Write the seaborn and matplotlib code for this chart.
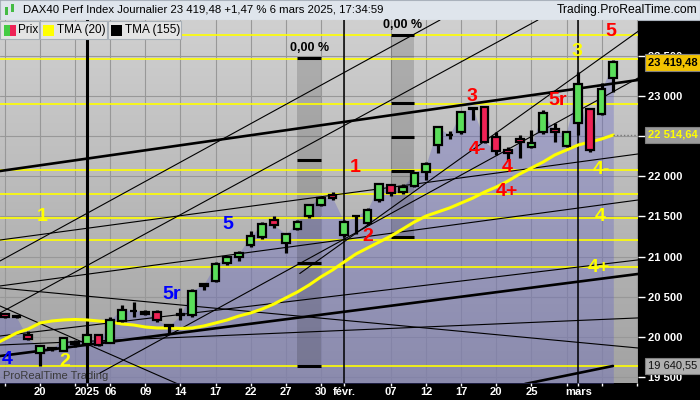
import numpy as np
import pandas as pd
import seaborn as sns
from matplotlib import pyplot as plt
from matplotlib.colors import LinearSegmentedColormap
from matplotlib.patches import Rectangle

# trading-day index: 0 = 20 Dec 2024 ... 49 = 6 Mar 2025
days = list(range(-4, 50))
opens = [20390, 20285, 20262, 20020, 19800, 19860, 19830, 19940, 19910, 20020,
         19930, 20200, 20320, 20290, 20310, 20150, 20280, 20270, 20640, 20700,
         20920, 20990, 21140, 21240, 21460, 21170, 21345, 21500, 21645, 21770,
         21270, 21500, 21420, 21705, 21890, 21800, 21880, 22050, 22390, 22520,
         22550, 22840, 22860, 22490, 22330, 22470, 22370, 22550, 22590, 22380,
         22660, 22840, 22775, 23225]
highs = [20420, 20300, 20275, 20080, 19900, 19880, 19990, 19960, 20050, 20040,
         20250, 20400, 20436, 20330, 20330, 20160, 20360, 20600, 20660, 20930,
         21010, 21070, 21320, 21430, 21500, 21300, 21450, 21660, 21745, 21800,
         21460, 21520, 21600, 21920, 21910, 21900, 22050, 22180, 22630, 22560,
         22810, 22860, 22880, 22550, 22365, 22520, 22577, 22830, 22664, 22560,
         23300, 22850, 23162, 23448]
lows = [20290, 20230, 20235, 19960, 19640.55, 19830, 19820, 19880, 19880, 19890,
        19920, 20190, 20250, 20270, 20190, 20050, 20210, 20250, 20580, 20680,
        20900, 20950, 21120, 21220, 21360, 21050, 21330, 21480, 21630, 21700,
        21250, 21280, 21400, 21680, 21760, 21780, 21870, 21955, 22290, 22460,
        22530, 22700, 22410, 22265, 22200, 22228, 22350, 22530, 22427, 22360,
        22514, 22300, 22760, 23050]
closes = [20314, 20246, 20243, 19970, 19885, 19848, 19984, 19909, 20025, 19906,
          20216, 20340, 20329, 20317, 20215, 20133, 20271, 20575, 20655, 20903,
          20990, 21042, 21254, 21411, 21395, 21282, 21430, 21637, 21727, 21732,
          21428, 21505, 21585, 21902, 21787, 21868, 22037, 22148, 22612, 22513,
          22798, 22845, 22433, 22315, 22287, 22426, 22410, 22794, 22551, 22551,
          23147, 22327, 23081, 23419.48]
tma20 = [19900, 19975, 20050, 20100, 20174, 20199, 20212, 20218, 20212, 20199,
         20187, 20162, 20149, 20124, 20112, 20112, 20106, 20112, 20137, 20174,
         20212, 20261, 20299, 20349, 20411, 20486, 20560, 20647, 20747, 20834,
         20934, 21033, 21108, 21183, 21257, 21344, 21432, 21506, 21556, 21606,
         21668, 21730, 21805, 21867, 21942, 22029, 22104, 22178, 22266, 22328,
         22390, 22427, 22465, 22514.64]

tick_days = [-3, 0, 3, 4, 6, 9, 12, 15, 18, 21, 24, 26, 30, 33, 36, 39, 42, 45, 46, 48, 51]
tick_text = ["", "20", "", "2025", "06", "09", "14", "17", "22", "27", "30", "févr.",
             "07", "12", "17", "20", "25", "", "mars", "", ""]
price_ticks = [19500, 20000, 20500, 21000, 21500, 22000, 22500, 23000, 23500]
price_text = ["19 500", "20 000", "20 500", "21 000", "21 500", "22 000", "", "23 000", "23 500"]

# horizontal levels drawn in yellow
levels = [23759, 23461, 22900, 22079, 21780, 21481, 21207, 20871, 19640.55]

# trend lines (start day, start price, end day, end price)
thick_lines = [(-3.42, 22066, 51.1, 23199), (-3.42, 19763, 51.1, 20784), (41.45, 19415, 48.97, 19639)]
thin_lines = [(-3.42, 20946, 34.19, 23946), (-3.42, 20299, 42.56, 23946), (22.2, 20790, 51.28, 23822),
              (5.13, 19552, 51.28, 23237), (-3.42, 21207, 51.1, 22278), (-3.42, 20635, 51.1, 21705),
              (-3.42, 20012, 51.1, 20959), (-3.42, 19900, 51.1, 20237), (-3.42, 20610, 51.1, 19863),
              (-3.42, 20386, 11.97, 19403)]

# wave labels
wave_text = ["4", "1", "2", "5r", "5", "1", "2", "3", "4-", "4", "4+", "5r", "3", "5", "4-", "4", "4+"]
wave_day = [-2.8, 0.17, 2.14, 11.28, 16.07, 26.92, 28.03, 36.9, 37.4, 39.91, 39.91, 44.2, 45.9, 48.8, 47.95, 47.86, 47.78]
wave_price = [19714, 21494, 19689, 20523, 21394, 22104, 21245, 22988, 22330, 22104, 21817, 22950, 23548, 23809, 22079, 21494, 20859]
wave_color = ["#0000ff", "#ffff00", "#ffff00", "#0000ff", "#0000ff", "#ff0000", "#ff0000", "#ff0000", "#ff0000",
              "#ff0000", "#ff0000", "#ff0000", "#ffff00", "#ff0000", "#ffff00", "#ffff00", "#ffff00"]

# time/price boxes
box1_days, box1_levels = (22, 24), [23473, 22203, 20921, 19640]
box2_days, box2_levels = (30, 32), [23759, 22913, 22490, 22066, 21245]

df = pd.DataFrame({"day": days, "open": opens, "high": highs, "low": lows, "close": closes, "tma": tma20})

sns.set_style("white")
plt.rcParams["font.family"] = ["Liberation Sans", "DejaVu Sans"]

GREEN, RED = "#5ade5a", "#ee2255"
XMIN, XMAX = -3.42, 51.11
YMIN, YMAX = 19427, 23946

fig = plt.figure(figsize=(7, 4), dpi=100, facecolor="black")
ax = fig.add_axes([0, 17 / 400, 638 / 700, 363 / 400])

grad = np.linspace(0, 1, 256).reshape(-1, 1)
bg = LinearSegmentedColormap.from_list("bg", ["#a2a2a2", "#d0d0d0"])
ax.imshow(grad, extent=[XMIN, XMAX, YMIN, YMAX], origin="lower", aspect="auto", cmap=bg, zorder=0)

ax.set_xticks(tick_days)
ax.set_xticklabels(tick_text)
ax.set_yticks(price_ticks)
ax.set_yticklabels(price_text)
ax.grid(True, color="#989898", lw=0.8)
ax.set_axisbelow(True)

# shaded boxes
for (d0, d1), lv in ((box1_days, box1_levels), (box2_days, box2_levels)):
    ax.fill_between([d0, d1], min(lv), max(lv), color="black", alpha=0.15, lw=0, zorder=1.2)
    ax.hlines(lv, d0, d1, colors="black", lw=2.2, zorder=3)
    ax.text((d0 + d1) / 2, max(lv) + 55, "0,00 %", ha="center", va="bottom", fontsize=9,
            fontweight="bold", color="black", zorder=8)

# area under the closes
ax.fill_between(df.day, df.close, YMIN - 100, color=(0.36, 0.36, 0.78), alpha=0.32, lw=0, zorder=1)

ax.hlines(levels, XMIN, XMAX, colors="#ffff00", lw=1.2, zorder=2)
ax.axvline(4, color="black", lw=2.2, zorder=2.5)
ax.axvline(26, color="black", lw=1.1, zorder=2.5)
ax.axvline(46, color="black", lw=1.1, zorder=2.5)

for d0, p0, d1, p1 in thick_lines:
    ax.plot([d0, d1], [p0, p1], color="black", lw=1.9, zorder=3)
for d0, p0, d1, p1 in thin_lines:
    ax.plot([d0, d1], [p0, p1], color="black", lw=0.8, zorder=3)

sns.lineplot(data=df, x="day", y="tma", color="#ffff00", lw=2.2, ax=ax, zorder=4)
ax.hlines(22514.64, 49, XMAX, colors="#777777", lw=1, linestyles=(0, (1, 1.5)), zorder=4)

up = df.close >= df.open
ax.vlines(df.day, df.low, df.high, color="black", lw=2.3, zorder=5)
ax.bar(df.day, df.close - df.open, bottom=df.open, width=0.66,
       color=np.where(up, GREEN, RED), edgecolor="black", linewidth=1.6, zorder=6)

for t, d, p, c in zip(wave_text, wave_day, wave_price, wave_color):
    ax.text(d, p, t, ha="center", va="center", fontsize=14, fontweight="bold", color=c, zorder=9)

ax.text(0.005, 0.02, "ProRealTime Trading", transform=ax.transAxes, fontsize=8,
        color="#3a3a3a", va="center", ha="left", zorder=2)

ax.set_xlim(XMIN, XMAX)
ax.set_ylim(YMIN, YMAX)
ax.set_xlabel("")
ax.set_ylabel("")
for s in ax.spines.values():
    s.set_visible(False)
ax.yaxis.tick_right()
ax.tick_params(axis="y", colors="white", labelsize=8, length=5, width=1, pad=2, left=False, right=True)
ax.tick_params(axis="x", colors="white", labelsize=8, length=2.5, width=1, pad=0.3, bottom=True)
for lbl in ax.get_yticklabels() + ax.get_xticklabels():
    lbl.set_fontweight("bold")

# price boxes on the right scale
for val, txt, fc, tc, fw in ((23419.48, "23 419,48", "#f2c200", "black", "bold"),
                             (22514.64, "22 514,64", "#9c9c9c", "#ffff00", "bold"),
                             (19640.55, "19 640,55", "#b0b0b0", "#111111", "normal")):
    ax.annotate(txt, xy=(1, val), xycoords=("axes fraction", "data"), xytext=(7.2, 0),
                textcoords="offset points", ha="left", va="center", fontsize=8, fontweight=fw,
                color=tc, annotation_clip=False, zorder=10,
                bbox=dict(boxstyle="square,pad=0.3", fc=fc, ec="#808080", lw=0.8))

# header bar
fig.add_artist(Rectangle((0, 380 / 400), 1, 20 / 400, transform=fig.transFigure,
                         fc="#dfe5ec", ec="#aab2bc", lw=0.8, zorder=0))
fig.add_artist(Rectangle((5 / 700, 385 / 400), 3 / 700, 8 / 400, transform=fig.transFigure, fc="#44bb44", lw=0))
fig.add_artist(Rectangle((11 / 700, 388 / 400), 3 / 700, 8 / 400, transform=fig.transFigure, fc="#44bb44", lw=0))
fig.text(23 / 700, 390 / 400, "DAX40 Perf Index Journalier 23 419,48 +1,47 % 6 mars 2025, 17:34:59",
         fontsize=8.2, color="black", va="center", ha="left")
fig.text(697 / 700, 390 / 400, "Trading.ProRealTime.com", fontsize=8.7, color="black", va="center", ha="right")

# legend row
for x0, x1 in ((0, 39), (40, 107), (108, 181)):
    fig.add_artist(Rectangle((x0 / 700, 361 / 400), (x1 - x0) / 700, 18 / 400, transform=fig.transFigure,
                             fc="#e4e4e4", ec="#a8b0b8", lw=0.8, zorder=5))
for x0, w, c in ((4, 6, "#44cc44"), (10, 6, "#ee2255"), (43, 11, "#ffff00"), (111, 11, "black")):
    fig.add_artist(Rectangle((x0 / 700, 364 / 400), w / 700, 11 / 400, transform=fig.transFigure,
                             fc=c, lw=0, zorder=6))
for x0, t in ((18, "Prix"), (57, "TMA (20)"), (125, "TMA (155)")):
    fig.text(x0 / 700, 370 / 400, t, fontsize=8.5, color="black", va="center", ha="left", zorder=7)

fig.savefig("out.png", dpi=100, facecolor="black")
